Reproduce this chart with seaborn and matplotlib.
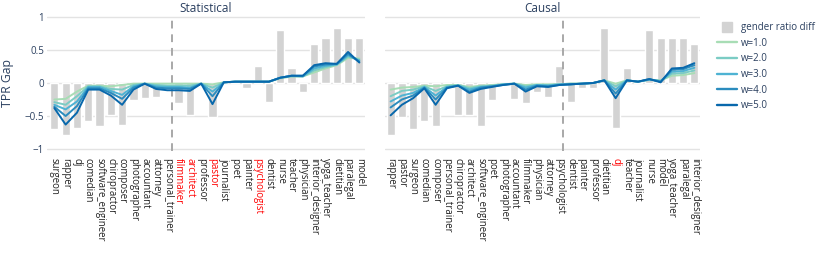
import numpy as np
import pandas as pd
import matplotlib
matplotlib.use("Agg")
import matplotlib.pyplot as plt
from matplotlib.lines import Line2D
import seaborn as sns

sns.set_style("white")
plt.rcParams["font.family"] = ["Open Sans", "DejaVu Sans"]

# -------------------------------
# Data
# -------------------------------
stat_jobs = ["surgeon", "rapper", "dj", "comedian", "software_engineer", "chiropractor",
             "composer", "photographer", "accountant", "attorney", "personal_trainer",
             "filmmaker", "architect", "professor", "pastor", "journalist", "poet",
             "painter", "psychologist", "dentist", "nurse", "teacher", "physician",
             "interior_designer", "yoga_teacher", "dietitian", "paralegal", "model"]
stat_red = ["filmmaker", "architect", "pastor", "psychologist"]
stat_ratio = [-0.70, -0.79, -0.68, -0.57, -0.65, -0.48, -0.64, -0.26, -0.23, -0.21, -0.01,
              -0.31, -0.48, -0.01, -0.51, 0.01, 0.01, -0.08, 0.25, -0.29, 0.80, 0.22,
              -0.13, 0.59, 0.68, 0.84, 0.68, 0.68]
stat_w1 = [-0.25, -0.24, -0.13, -0.04, -0.04, -0.05, -0.03, -0.01, -0.01, -0.01, -0.01, -0.01,
           -0.01, -0.01, -0.02, 0.01, 0.02, 0.02, 0.02, 0.02, 0.07, 0.10, 0.10, 0.16, 0.22,
           0.27, 0.38, 0.37]
stat_w2 = [-0.29, -0.33, -0.20, -0.05, -0.05, -0.09, -0.10, -0.03, -0.01, -0.03, -0.04, -0.04,
           -0.04, -0.01, -0.07, 0.01, 0.02, 0.02, 0.02, 0.02, 0.08, 0.10, 0.10, 0.19, 0.24,
           0.28, 0.40, 0.35]
stat_w3 = [-0.33, -0.40, -0.28, -0.06, -0.06, -0.12, -0.18, -0.05, -0.01, -0.05, -0.06, -0.06,
           -0.07, -0.01, -0.13, 0.01, 0.02, 0.02, 0.02, 0.02, 0.08, 0.11, 0.10, 0.22, 0.26,
           0.28, 0.42, 0.34]
stat_w4 = [-0.36, -0.50, -0.35, -0.08, -0.08, -0.15, -0.24, -0.07, -0.01, -0.07, -0.08, -0.08,
           -0.09, -0.01, -0.20, 0.01, 0.02, 0.02, 0.02, 0.02, 0.08, 0.11, 0.11, 0.25, 0.28,
           0.29, 0.44, 0.32]
stat_w5 = [-0.38, -0.63, -0.45, -0.10, -0.10, -0.19, -0.33, -0.10, -0.01, -0.09, -0.11, -0.11,
           -0.12, -0.01, -0.32, 0.01, 0.02, 0.02, 0.02, 0.02, 0.08, 0.11, 0.11, 0.27, 0.30,
           0.29, 0.47, 0.31]

caus_jobs = ["rapper", "pastor", "surgeon", "comedian", "composer", "personal_trainer",
             "chiropractor", "architect", "software_engineer", "poet", "photographer",
             "accountant", "filmmaker", "physician", "attorney", "psychologist", "dentist",
             "painter", "professor", "dietitian", "dj", "teacher", "journalist", "nurse",
             "model", "yoga_teacher", "paralegal", "interior_designer"]
caus_red = ["dj"]
caus_ratio = [-0.79, -0.51, -0.70, -0.57, -0.65, -0.01, -0.48, -0.48, -0.65, -0.26, -0.01,
              -0.24, -0.31, -0.13, -0.21, 0.25, -0.29, -0.08, -0.08, 0.84, -0.68, 0.22,
              0.01, 0.80, 0.68, 0.68, 0.68, 0.59]
caus_w1 = [-0.10, -0.07, -0.06, -0.04, -0.05, -0.03, -0.03, -0.06, -0.04, -0.03, -0.02, -0.01,
           -0.03, -0.02, -0.02, -0.02, -0.01, -0.01, 0.00, 0.04, -0.01, 0.04, 0.02, 0.05,
           0.04, 0.11, 0.12, 0.15]
caus_w2 = [-0.20, -0.12, -0.10, -0.05, -0.12, -0.05, -0.03, -0.08, -0.05, -0.04, -0.02, -0.01,
           -0.05, -0.03, -0.03, -0.02, -0.01, -0.01, 0.00, 0.04, -0.05, 0.04, 0.02, 0.05,
           0.03, 0.14, 0.15, 0.19]
caus_w3 = [-0.28, -0.19, -0.15, -0.06, -0.19, -0.06, -0.04, -0.10, -0.06, -0.05, -0.02, -0.01,
           -0.07, -0.03, -0.04, -0.02, -0.02, -0.01, 0.00, 0.04, -0.10, 0.04, 0.02, 0.05,
           0.03, 0.17, 0.18, 0.23]
caus_w4 = [-0.37, -0.25, -0.19, -0.07, -0.25, -0.07, -0.04, -0.13, -0.07, -0.05, -0.03, -0.01,
           -0.10, -0.04, -0.05, -0.03, -0.02, -0.01, 0.00, 0.04, -0.16, 0.04, 0.02, 0.06,
           0.02, 0.20, 0.21, 0.27]
caus_w5 = [-0.49, -0.33, -0.23, -0.08, -0.33, -0.08, -0.04, -0.15, -0.09, -0.06, -0.03, -0.01,
           -0.13, -0.05, -0.06, -0.03, -0.02, -0.01, 0.00, 0.04, -0.23, 0.04, 0.02, 0.06,
           0.01, 0.22, 0.23, 0.30]

w_labels = ["w=1.0", "w=2.0", "w=3.0", "w=4.0", "w=5.0"]
line_colors = ["#a8ddb5", "#7bccc4", "#4eb3d3", "#2b8cbe", "#0868ac"]
bar_color = "#d3d3d3"
text_color = "#2a3f5f"


def long_df(ws):
    rows = []
    for lab, vals in zip(w_labels, ws):
        for i, v in enumerate(vals):
            rows.append({"pos": i, "gap": v, "w": lab})
    return pd.DataFrame(rows)


fig = plt.figure(figsize=(8.3, 2.59), dpi=100)
ax1 = fig.add_axes([47 / 830, 1 - 151 / 259, 318 / 830, 136 / 259])
ax2 = fig.add_axes([385 / 830, 1 - 151 / 259, 315 / 830, 136 / 259])

panels = [
    (ax1, "Statistical", stat_jobs, stat_red, stat_ratio,
     [stat_w1, stat_w2, stat_w3, stat_w4, stat_w5], 10.4, -0.65),
    (ax2, "Causal", caus_jobs, caus_red, caus_ratio,
     [caus_w1, caus_w2, caus_w3, caus_w4, caus_w5], 15.35, -0.5),
]

for ax, title, jobs, red, ratio, ws, split, xmin in panels:
    ax.set_axisbelow(True)
    ax.grid(True, color="#e3e3e3", lw=1)
    sns.barplot(x=jobs, y=ratio, order=jobs, color=bar_color, saturation=1,
                width=0.73, ax=ax, zorder=2)
    sns.lineplot(data=long_df(ws), x="pos", y="gap", hue="w", palette=line_colors,
                 lw=1.4, sort=False, legend=False, ax=ax, zorder=3)
    ax.axvline(split, color="#a8a8a8", ls=(0, (4, 3)), lw=1.4, zorder=2.5)
    ax.set_xlim(xmin, 27.5)
    ax.set_ylim(-1.03, 1.03)
    ax.set_xticks(range(len(jobs)))
    ax.set_xticklabels(jobs, rotation=-90, fontsize=6.9, va="top", ha="center")
    for lab in ax.get_xticklabels():
        lab.set_color("red" if lab.get_text() in red else "#222222")
    ax.set_yticks([-1, -0.5, 0, 0.5, 1])
    ax.set_xlabel("")
    ax.set_title(title, fontsize=8.5, color=text_color, pad=2)
    ax.tick_params(length=0, pad=5)
    for s in ax.spines.values():
        s.set_visible(False)

ax1.set_yticklabels(["\u22121", "\u22120.5", "0", "0.5", "1"], fontsize=7, color=text_color)
ax1.tick_params(axis="y", pad=2)
ax1.set_ylabel("TPR Gap", fontsize=8.8, color=text_color)
ax1.yaxis.set_label_coords(-0.105, 0.5)
ax2.set_yticklabels([])
ax2.set_ylabel("")

handles = [Line2D([], [], marker="s", ls="", color=bar_color, markersize=7.5)]
handles += [Line2D([], [], color=c, lw=1.7) for c in line_colors]
leg = fig.legend(handles, ["gender ratio diff"] + w_labels, loc="upper left",
                 bbox_to_anchor=(717 / 830, 1 - 22 / 259), frameon=False, fontsize=7,
                 handlelength=2.1, labelspacing=0.48, handletextpad=0.4,
                 borderpad=0, borderaxespad=0)
for t in leg.get_texts():
    t.set_color(text_color)

fig.savefig("out.png", dpi=100)
